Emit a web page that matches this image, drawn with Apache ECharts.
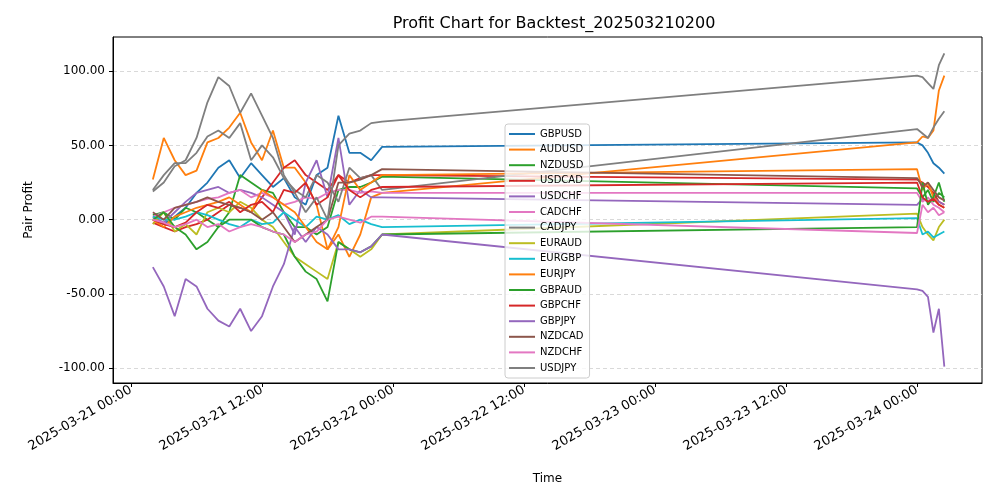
<!DOCTYPE html>
<html><head><meta charset="utf-8">
<script src="https://cdn.jsdelivr.net/npm/echarts@6/dist/echarts.min.js"></script>
<style>html,body{margin:0;padding:0;background:#fff}#c{width:1000px;height:500px}</style>
</head><body><div id="c"></div>
<script>
// hours since 2025-03-21 00:00
const day1Hours = [2,3,4,5,6,7,8,9,10,11,12,13,14,15,16,17,18,19,20,21,22,23];
const lastHours = [72,72.5,73,73.5,74,74.5];
const pairNames = ['GBPUSD','AUDUSD','NZDUSD','USDCAD','USDCHF','CADCHF','CADJPY','EURAUD','EURGBP','EURJPY','GBPAUD','GBPCHF','GBPJPY','NZDCAD','NZDCHF','USDJPY'];
const pairColors = ['#1f77b4','#ff7f0e','#2ca02c','#d62728','#9467bd','#e377c2','#7f7f7f','#bcbd22','#17becf','#ff7f0e','#2ca02c','#d62728','#9467bd','#8c564b','#e377c2','#7f7f7f'];
const GBPUSD = [0,-3,2,8,18,25,35,40,28,38,30,22,28,15,10,30,35,70,45,45,40,49, 52,50,45,38,35,31];
const AUDUSD = [27,55,40,30,33,52,55,62,72,52,40,60,35,35,25,10,-20,-10,-25,-10,15,18, 52,56,55,60,87,97];
const NZDUSD = [3,5,0,8,5,0,-5,5,30,25,20,18,5,-5,-5,-10,-5,20,22,22,25,29, 21,15,20,12,18,15];
const USDCAD = [-2,-5,-8,-5,-3,0,5,10,8,5,15,25,35,40,30,25,20,30,25,28,30,30, 27,25,22,18,12,10];
const USDCHF = [2,-2,5,12,18,20,22,18,20,18,15,10,5,-10,25,40,15,55,10,20,15,15, 10,14,12,15,12,10];
const CADCHF = [2,5,8,10,12,14,15,18,20,15,18,15,10,12,15,14,18,20,20,18,19,18, 18,12,15,10,8,5];
const CADJPY = [20,30,38,38,45,56,60,55,65,40,50,42,28,20,15,30,25,12,35,28,30,20, 61,58,55,62,68,73];
const EURAUD = [-3,5,-8,-3,-10,5,8,5,12,8,0,-5,-15,-25,-30,-35,-40,-15,-20,-25,-20,-10, 4,-5,-10,-14,-5,0];
const EURGBP = [2,0,0,2,5,3,0,-3,-5,0,-3,-2,5,0,-5,2,0,3,-3,0,-3,-5, 1,-10,-8,-12,-10,-8];
const EURJPY = [0,-5,2,5,8,10,12,15,10,5,20,15,10,5,-5,-15,-20,-5,30,20,25,30, 34,20,25,15,10,8];
const GBPAUD = [0,5,-5,-10,-20,-15,-5,0,0,0,-5,-8,-10,-25,-35,-40,-55,-15,-20,-22,-18,-10, -5,25,10,15,25,12];
const GBPCHF = [0,-3,-5,-2,5,10,8,12,5,10,12,5,20,18,25,10,15,30,20,15,20,22, 25,15,12,14,10,8];
const GBPJPY = [-32,-45,-65,-40,-45,-60,-68,-72,-60,-75,-65,-45,-30,-5,-15,-5,-10,-20,-20,-22,-18,-10, -47,-48,-52,-76,-60,-99];
const NZDCAD = [5,0,8,10,12,15,12,10,8,5,0,5,-5,-15,-10,-5,0,25,25,27,30,34, 28,22,25,20,15,13];
const NZDCHF = [0,-2,-5,-3,0,-5,-3,-8,-5,-3,-5,-8,-10,-15,-10,-8,0,2,0,-2,2,2, -9,10,5,8,3,5];
const USDJPY = [19,25,36,40,55,79,96,90,72,85,70,55,30,18,5,15,0,50,58,60,65,66, 97,96,92,88,104,112];
const pairValues = [GBPUSD,AUDUSD,NZDUSD,USDCAD,USDCHF,CADCHF,CADJPY,EURAUD,EURGBP,EURJPY,GBPAUD,GBPCHF,GBPJPY,NZDCAD,NZDCHF,USDJPY];
const yTicks = [-100,-50,0,50,100];
const xTicks = [0,12,24,36,48,60,72];

const allHours = day1Hours.concat(lastHours);
function fmtHour(h){
  const d = 21 + Math.floor(h/24), hh = h%24;
  return '2025-03-' + d + ' ' + String(hh).padStart(2,'0') + ':00';
}
const series = pairNames.map((n,i)=>({
  name:n, type:'line', showSymbol:false, color:pairColors[i],
  lineStyle:{width:1.8}, data: allHours.map((h,j)=>[h,pairValues[i][j]])
}));
series[0].markLine = {symbol:'none', silent:true, label:{show:false}, z:0,
  lineStyle:{type:[4,3], color:'#cfcfcf', width:0.8},
  data: yTicks.map(v=>({yAxis:v}))};

const chart = echarts.init(document.getElementById('c'));
chart.setOption({
  animation:false,
  title:{text:'Profit Chart for Backtest_202503210200', left:549, top:11, textAlign:'center',
    textStyle:{fontFamily:'DejaVu Sans', fontSize:16, fontWeight:'normal', color:'#000'}},
  grid:{left:113, right:18, top:37, bottom:117, show:true, borderColor:'#000', borderWidth:1},
  legend:{orient:'vertical', left:505, top:124, itemWidth:26, itemHeight:2, itemGap:5.6,
    icon:'rect', padding:[5,6,5,4], borderColor:'#ccc', borderWidth:1, borderRadius:3,
    backgroundColor:'rgba(255,255,255,0.8)',
    textStyle:{fontFamily:'DejaVu Sans', fontSize:10, color:'#000'},
    data: pairNames},
  xAxis:{type:'value', min:-1.65, max:77.95, name:'Time', nameLocation:'middle', nameGap:90,
    nameTextStyle:{fontFamily:'DejaVu Sans', fontSize:12, color:'#000'},
    axisLine:{onZero:false, lineStyle:{color:'#000'}},
    axisTick:{customValues:xTicks, length:4, lineStyle:{color:'#000'}},
    axisLabel:{customValues:xTicks, rotate:30, color:'#000', fontFamily:'DejaVu Sans', fontSize:13,
      formatter:v=>fmtHour(v), margin:6},
    splitLine:{show:false}},
  yAxis:{type:'value', min:-110, max:123, name:'Pair Profit', nameLocation:'middle', nameGap:78,
    nameTextStyle:{fontFamily:'DejaVu Sans', fontSize:12, color:'#000'},
    axisLine:{show:true, onZero:false, lineStyle:{color:'#000'}},
    axisTick:{show:true, customValues:yTicks, length:4, lineStyle:{color:'#000'}},
    axisLabel:{customValues:yTicks, color:'#000', fontFamily:'DejaVu Sans', fontSize:12,
      formatter:v=>v.toFixed(2)},
    splitLine:{show:false}},
  series: series
});
</script></body></html>
